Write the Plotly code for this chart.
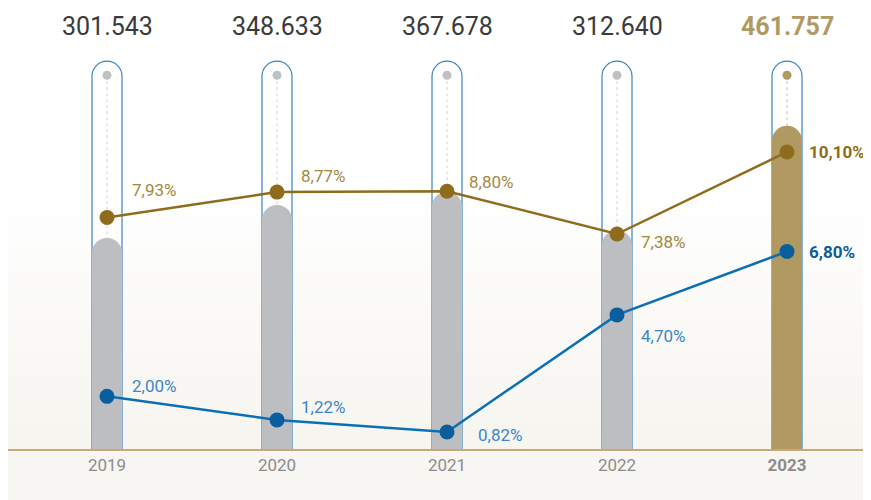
import plotly.graph_objects as go

YEARS = ["2019", "2020", "2021", "2022", "2023"]
VOLUME = [301.543, 348.633, 367.678, 312.640, 461.757]
VOLUME_LABELS = ["301.543", "348.633", "367.678", "312.640", "461.757"]
GOLD_PCT = [7.93, 8.77, 8.80, 7.38, 10.10]
BLUE_PCT = [2.00, 1.22, 0.82, 4.70, 6.80]
CAPSULE_MAX = 554
DOT_LEVEL = 534

GRAY = "#bdbec1"
TAN = "#b09a62"
GOLD = "#8f6c1d"
GOLD_TXT = "#a5873f"
BLUE = "#0b6fb6"
BLUE_DARK = "#0a5e9e"
BLUE_TXT = "#3d86c5"
FONT = "Roboto"

# page body has an 8px margin -> draw in a 863x492 figure
W, H = 863, 492
PLOT_H = 441
x = list(range(len(YEARS)))
bw = 30 / 170
YR = [0, PLOT_H / 0.70]

fig = go.Figure()

# background gradient (white -> beige)
shapes = []
n = 26
top_c = (255, 255, 255)
bot_c = (247, 245, 240)
for i in range(n):
    f = i / (n - 1)
    c = tuple(round(bot_c[k] + (top_c[k] - bot_c[k]) * f) for k in range(3))
    y0 = 0.62 * i / n
    y1 = 0.62 * (i + 1) / n + 0.002
    shapes.append(dict(type="rect", xref="paper", yref="paper", x0=0, x1=1,
                       y0=y0, y1=y1, fillcolor="rgb(%d,%d,%d)" % c,
                       line_width=0, layer="below"))
shapes.append(dict(type="rect", xref="paper", yref="paper", x0=0, x1=1,
                   y0=-(H - PLOT_H) / PLOT_H, y1=0, fillcolor="rgb(248,246,242)",
                   line_width=0, layer="below"))

# capsules (y)
fig.add_trace(go.Bar(
    x=x, y=[CAPSULE_MAX] * len(x), width=bw,
    marker=dict(color="rgba(0,0,0,0)", line=dict(color="#3a82c4", width=1.2),
                cornerradius="50%"),
    hoverinfo="skip", showlegend=False,
))
# volume bars (y2)
fig.add_trace(go.Bar(
    x=x, y=VOLUME, width=bw, yaxis="y2",
    marker=dict(color=[GRAY] * 4 + [TAN], cornerradius="50%", line_width=0),
    showlegend=False,
))

# dotted stems
sx, sy = [], []
for i in range(4):
    sx += [x[i], x[i], None]
    sy += [DOT_LEVEL, VOLUME[i], None]
fig.add_trace(go.Scatter(x=sx, y=sy, yaxis="y2", mode="lines",
                         line=dict(color="#d2d2d2", width=1, dash="dot"),
                         hoverinfo="skip", showlegend=False))
fig.add_trace(go.Scatter(x=[x[4], x[4]], y=[DOT_LEVEL, VOLUME[4]], yaxis="y2",
                         mode="lines",
                         line=dict(color="#cdbf9a", width=1, dash="dot"),
                         hoverinfo="skip", showlegend=False))
fig.add_trace(go.Scatter(x=x, y=[DOT_LEVEL] * len(x), yaxis="y2", mode="markers",
                         marker=dict(size=9, color=["#bfc0c2"] * 4 + [TAN]),
                         hoverinfo="skip", showlegend=False))

# lines (y3)
fig.add_trace(go.Scatter(x=x, y=GOLD_PCT, yaxis="y3", mode="lines+markers",
                         line=dict(color=GOLD, width=2.5),
                         marker=dict(size=15, color=GOLD), showlegend=False))
fig.add_trace(go.Scatter(x=x, y=BLUE_PCT, yaxis="y3", mode="lines+markers",
                         line=dict(color=BLUE, width=2.5),
                         marker=dict(size=15, color=BLUE_DARK), showlegend=False))

ann = []
# top value labels
for i, lab in enumerate(VOLUME_LABELS):
    last = i == len(x) - 1
    ann.append(dict(x=x[i], y=1 - 19 / PLOT_H, xref="x", yref="paper", text=lab,
                    showarrow=False, yanchor="middle",
                    font=dict(family=FONT, size=25,
                              color="#3a3a3a" if not last else TAN,
                              weight="bold" if last else "normal")))

gold_off = [(23, 27), (22, 16), (20, 9), (22, -8), (20, 0)]
blue_off = [(23, 10), (22, 13), (29, -3), (22, -21), (20, 0)]
for i in range(len(x)):
    last = i == len(x) - 1
    g = f"{GOLD_PCT[i]:.2f}%".replace(".", ",")
    b = f"{BLUE_PCT[i]:.2f}%".replace(".", ",")
    ann.append(dict(x=x[i], y=GOLD_PCT[i], xref="x", yref="y3", text=g,
                    showarrow=False, xanchor="left", yanchor="middle",
                    xshift=gold_off[i][0], yshift=gold_off[i][1],
                    font=dict(family=FONT, size=17,
                              color=GOLD if last else GOLD_TXT,
                              weight="bold" if last else "normal")))
    ann.append(dict(x=x[i], y=BLUE_PCT[i], xref="x", yref="y3", text=b,
                    showarrow=False, xanchor="left", yanchor="middle",
                    xshift=blue_off[i][0], yshift=blue_off[i][1],
                    font=dict(family=FONT, size=17,
                              color=BLUE_DARK if last else BLUE_TXT,
                              weight="bold" if last else "normal")))

zero_px = 448.7  # pct zero sits a little below the baseline
fig.update_layout(
    width=W, height=H,
    margin=dict(l=0, r=0, t=0, b=H - PLOT_H),
    paper_bgcolor="white", plot_bgcolor="rgba(0,0,0,0)",
    barmode="overlay",
    shapes=shapes, annotations=ann,
    xaxis=dict(range=[-99 / 170, (W - 99) / 170], tickvals=x,
               ticktext=YEARS[:-1] + ["<b>2023</b>"],
               tickfont=dict(family=FONT, size=17, color="#8c8c8c"),
               showgrid=False, zeroline=False, showline=True,
               linecolor="#c8a878", linewidth=1.5, ticks=""),
    yaxis=dict(range=YR, visible=False),
    yaxis2=dict(range=YR, overlaying="y", visible=False),
    yaxis3=dict(range=[(zero_px - PLOT_H) / 30.17, zero_px / 30.17],
                overlaying="y", visible=False),
    font=dict(family=FONT),
)

fig.write_html("out.html")
